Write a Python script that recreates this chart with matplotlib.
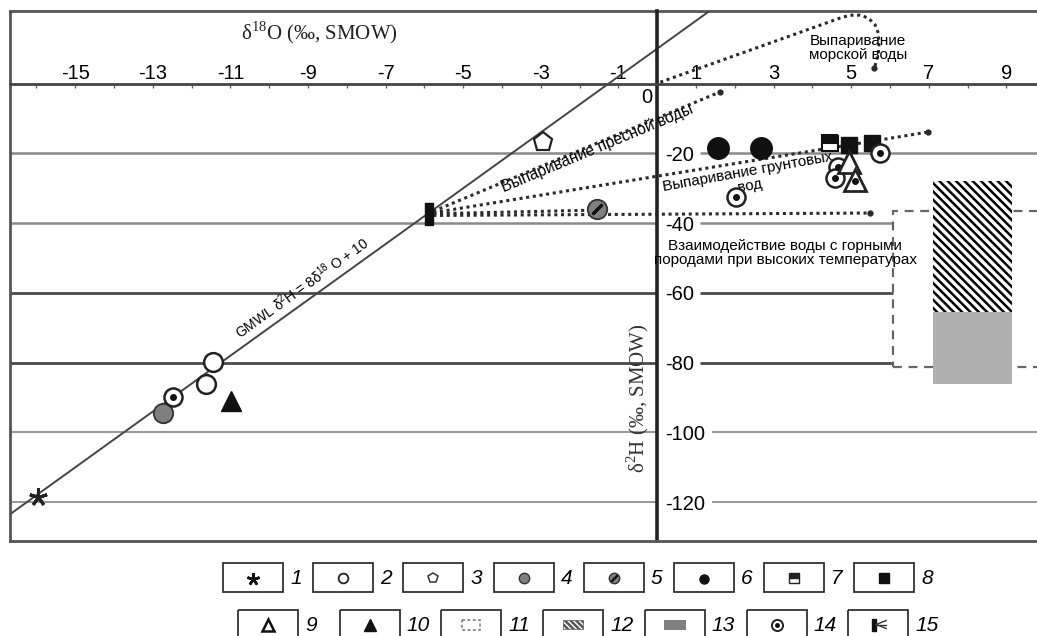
import numpy as np
import matplotlib
matplotlib.use('Agg')
import matplotlib.pyplot as plt
from matplotlib.patches import Rectangle

plt.rcParams['font.family'] = ['Liberation Sans', 'DejaVu Sans']
plt.rcParams['axes.unicode_minus'] = False
plt.rcParams['hatch.linewidth'] = 1.8
plt.rcParams['hatch.color'] = 'black'

# ---- values (d18O, d2H) ----
gmwl_x = [-16.7, 1.4]                      # GMWL: d2H = 8*d18O + 10

star_x, star_y = [-15.95], [-118.6]                                  # 1
open_circ_x, open_circ_y = [-11.44, -11.62], [-79.7, -86.0]          # 2
pent_x, pent_y = [-2.94], [-16.8]                                    # 3
gray_circ_x, gray_circ_y = [-12.73], [-94.3]                         # 4
slash_x, slash_y = [-1.55], [-36.0]                                  # 5
black_circ_x, black_circ_y = [1.57, 2.68], [-18.5, -18.5]            # 6
half_sq_x, half_sq_y = [4.46], [-17.0]                               # 7
black_sq_x, black_sq_y = [4.95, 5.54], [-17.6, -17.0]                # 8
open_tri_x, open_tri_y = [4.95, 5.10], [-22.5, -27.7]                # 9
tri_dot_x, tri_dot_y = [5.10], [-27.9]
black_tri_x, black_tri_y = [-10.98], [-91.1]                         # 10
dot_circ_x = [-12.47, 2.04, 4.66, 4.59, 5.75]                        # 14
dot_circ_y = [-89.7, -32.6, -23.9, -27.1, -19.9]
source_x, source_y = [-5.89], [-37.4]                                # 15

box11 = [6.08, 10.5, -81.2, -36.5]     # x0, x1, y0, y1
box12 = [7.11, 9.15, -65.5, -27.9]
box13 = [7.11, 9.15, -86.1, -65.5]

# evaporation trends (dotted)
fresh_x, fresh_y = [-5.77, 1.62], [-36.6, -2.4]
ground_x, ground_y = [-5.77, 6.98], [-37.0, -13.9]
rock_x, rock_y = [-5.77, 5.49], [-37.8, -37.1]
rock2_x, rock2_y = [-5.77, -1.7], [-37.3, -36.3]
sea_x = [0.08, 4.72, 4.97, 5.23, 5.44, 5.62, 5.70, 5.72, 5.70, 5.64, 5.59]
sea_y = [0.4, 18.8, 19.6, 19.6, 18.8, 16.8, 14.5, 11.6, 8.7, 5.9, 4.4]

grid_levels = [-20, -40, -60, -80, -100, -120]
grid_right_start = [1.1, 1.1, 1.1, 1.1, 1.42, 1.42]
grid_right_end = [9.8, 6.08, 6.08, 6.08, 9.8, 9.8]
grid_colors = ['#8a8a8a', '#8a8a8a', '#4a4a4a', '#4a4a4a', '#9a9a9a', '#9a9a9a']
grid_widths = [1.8, 1.8, 2.0, 2.0, 1.5, 1.5]

xmin, xmax = -16.68, 9.79
ymin, ymax = -131.1, 20.8

fig = plt.figure(figsize=(10.37, 6.36), dpi=100)
ax = fig.add_axes([10/1037, 95/636, 1027/1037, 530/636])
ax.set_xlim(xmin, xmax)
ax.set_ylim(ymin, ymax)

# frame + axes through the origin
for s in ['left', 'bottom']:
    ax.spines[s].set_color('#555555')
    ax.spines[s].set_linewidth(2)
ax.plot([0, 1], [1, 1], transform=ax.transAxes, color='#555555', lw=2, clip_on=False)
ax.spines['right'].set_position(('data', 0))
ax.spines['right'].set_color('#222222')
ax.spines['right'].set_linewidth(2.6)
ax.spines['top'].set_position(('data', 0))
ax.spines['top'].set_color('#444444')
ax.spines['top'].set_linewidth(2)
ax.xaxis.tick_top()
ax.yaxis.tick_right()

ax.set_xticks(np.arange(-15, 10, 2))
ax.set_xticks(np.arange(-16, 10, 1), minor=True)
ax.tick_params(axis='x', which='both', direction='in', length=3, width=1,
               color='#666666', labelsize=14.5, pad=0.5)
ax.set_yticks(grid_levels)
ax.tick_params(axis='y', length=0, labelsize=14.5, pad=6)
ax.text(-0.12, -3.9, '0', ha='right', va='center', fontsize=14.5)

# horizontal grid, broken by the y labels
for lev, x0, x1, c, w in zip(grid_levels, grid_right_start, grid_right_end,
                             grid_colors, grid_widths):
    ax.hlines(lev, xmin, 0, color=c, lw=w, zorder=1)
    ax.hlines(lev, x0, x1, color=c, lw=w, zorder=1)

# GMWL
gx = np.array(gmwl_x)
ax.plot(gx, 8 * gx + 10, color='#444444', lw=1.4, zorder=2)
ax.text(-9.15, -58.6, 'GMWL δ$^{\\mathregular{2}}$H = 8δ$^{\\mathregular{18}}$ O + 10',
        rotation=35.7, ha='center', va='center', fontsize=10, rotation_mode='anchor')

# areas 11-13
ax.add_patch(Rectangle((box11[0], box11[2]), box11[1] - box11[0], box11[3] - box11[2],
                       fill=False, ec='#666666', lw=1.6, ls=(0, (4, 3)), zorder=1))
ax.add_patch(Rectangle((box12[0], box12[2]), box12[1] - box12[0], box12[3] - box12[2],
                       fc='white', ec='black', lw=0, hatch='\\\\\\\\', zorder=3))
ax.add_patch(Rectangle((box13[0], box13[2]), box13[1] - box13[0], box13[3] - box13[2],
                       fc='#b0b0b0', ec='none', zorder=3))

# dotted trend lines
dot_style = dict(color='#2a2a2a', lw=2.2, ls=(0, (1, 1.2)), zorder=2)
for lx, ly in [(fresh_x, fresh_y), (ground_x, ground_y), (rock_x, rock_y),
               (rock2_x, rock2_y), (sea_x, sea_y)]:
    ax.plot(lx, ly, **dot_style)
    ax.plot(lx[-1], ly[-1], 'o', color='#2a2a2a', ms=3.5, zorder=2)

ax.text(-1.55, -18.6, 'Выпаривание пресной воды', rotation=22.7, ha='center',
        va='center', fontsize=11.3, rotation_mode='anchor')
ax.text(2.37, -27.3, 'Выпаривание грунтовых\nвод', rotation=10.2, ha='center',
        va='center', fontsize=11, rotation_mode='anchor', linespacing=1.0)
ax.text(5.18, 10.2, 'Выпаривание\nморской воды', ha='center', va='center',
        fontsize=11, linespacing=1.05)
ax.text(3.30, -48.6, 'Взаимодействие воды с горными\nпородами при высоких температурах',
        ha='center', va='center', fontsize=11, linespacing=1.05)

# axis titles
ax.text(-8.7, 14.5, 'δ$^{\\mathregular{18}}$O (‰, SMOW)', ha='center', va='center',
        fontsize=15, family='Liberation Serif', color='#222222')
ax.text(-0.49, -90.2, 'δ$^{\\mathregular{2}}$H (‰, SMOW)', ha='center', va='center',
        rotation=90, fontsize=15, family='Liberation Serif', color='#333333')

# samples
z = 6
ax.plot(star_x, star_y, ls='none', marker=(5, 2, 0), ms=13, mew=2.2, color='#222222', zorder=z)
ax.plot(open_circ_x, open_circ_y, 'o', ms=13.5, mfc='white', mec='#222222', mew=1.8, zorder=z)
ax.plot(pent_x, pent_y, 'p', ms=14, mfc='white', mec='#222222', mew=1.6, zorder=z)
ax.plot(gray_circ_x, gray_circ_y, 'o', ms=14, mfc='#7f7f7f', mec='#333333', mew=1.3, zorder=z)
ax.plot(slash_x, slash_y, 'o', ms=14, mfc='#7f7f7f', mec='#333333', mew=1.3, zorder=z)
ax.plot(slash_x, slash_y, ls='none', marker=(2, 2, -45), ms=10, mew=2, color='#111111', zorder=z)
ax.plot(black_circ_x, black_circ_y, 'o', ms=15.5, color='#111111', zorder=z)
ax.plot(half_sq_x, half_sq_y, 's', ms=12, mfc='#111111', mfcalt='white', fillstyle='top',
        mec='#111111', mew=1.5, zorder=z)
ax.plot(black_sq_x, black_sq_y, 's', ms=12, color='#111111', zorder=z)
ax.plot(dot_circ_x, dot_circ_y, 'o', ms=13, mfc='white', mec='#222222', mew=1.8, zorder=z)
ax.plot(dot_circ_x, dot_circ_y, 'o', ms=4, color='#111111', zorder=z)
ax.plot(open_tri_x, open_tri_y, '^', ms=16, mfc='white', mec='#222222', mew=2, zorder=z + 1)
ax.plot(tri_dot_x, tri_dot_y, 'o', ms=4, color='#111111', zorder=z + 1)
ax.plot(black_tri_x, black_tri_y, '^', ms=15, color='#111111', zorder=z)
bar = [(-0.18, -0.5), (0.18, -0.5), (0.18, 0.5), (-0.18, 0.5), (-0.18, -0.5)]
ax.plot(source_x, source_y, ls='none', marker=bar, ms=16, color='#111111', zorder=z)

# ---- legend (drawn in pixel coordinates) ----
lax = fig.add_axes([0, 0, 1, 95/636])
lax.set_xlim(0, 1037)
lax.set_ylim(636, 541)
lax.axis('off')

row_y = [577.5, 624.5]
row_left = [223 + 90.2 * np.arange(8), 238 + 101.7 * np.arange(7)]
numbers = [list(range(1, 9)), list(range(9, 16))]


def icon(n, cx, cy):
    k = dict(ls='none', zorder=3)
    if n == 1:
        lax.plot(cx, cy + 1, marker=(5, 2, 0), ms=9, mew=1.8, color='#111111', **k)
    elif n == 2:
        lax.plot(cx, cy, 'o', ms=7, mfc='white', mec='#222222', mew=1.3, **k)
    elif n == 3:
        lax.plot(cx, cy, 'p', ms=7.5, mfc='white', mec='#333333', mew=1.1, **k)
    elif n == 4:
        lax.plot(cx, cy, 'o', ms=7.5, mfc='#7f7f7f', mec='#333333', mew=1, **k)
    elif n == 5:
        lax.plot(cx, cy, 'o', ms=7.5, mfc='#7f7f7f', mec='#333333', mew=1, **k)
        lax.plot(cx, cy, marker=(2, 2, -45), ms=6, mew=1.5, color='#111111', **k)
    elif n == 6:
        lax.plot(cx, cy + 1, 'o', ms=6.5, color='#111111', **k)
    elif n == 7:
        lax.plot(cx, cy, 's', ms=6.5, mfc='#222222', mfcalt='white', fillstyle='top',
                 mec='#222222', mew=1, **k)
    elif n == 8:
        lax.plot(cx, cy, 's', ms=7, color='#111111', **k)
    elif n == 9:
        lax.plot(cx, cy, '^', ms=8, mfc='white', mec='#111111', mew=1.8, **k)
    elif n == 10:
        lax.plot(cx, cy, '^', ms=9, color='#111111', **k)
    elif n == 11:
        lax.add_patch(Rectangle((cx - 9, cy - 5), 18, 10, fill=False, ec='#777777',
                                lw=1.1, ls=(0, (2, 1.5))))
    elif n == 12:
        lax.add_patch(Rectangle((cx - 10, cy - 4.5), 20, 9, fc='white', ec='#555555',
                                lw=0.5, hatch='\\\\\\\\\\\\'))
    elif n == 13:
        lax.add_patch(Rectangle((cx - 11, cy - 5), 22, 10, fc='#7f7f7f', ec='none'))
    elif n == 14:
        lax.plot(cx, cy, 'o', ms=8, mfc='white', mec='#222222', mew=1.4, **k)
        lax.plot(cx, cy, 'o', ms=2.5, color='#111111', **k)
    elif n == 15:
        lax.plot(cx - 4, cy, marker=bar, ms=9, color='#111111', **k)
        for dy in (-4, 0, 4):
            lax.plot([cx - 2, cx + 8], [cy, cy + dy], color='#333333', lw=1, zorder=3)


for ry, lefts, nums in zip(row_y, row_left, numbers):
    for x0, n in zip(lefts, nums):
        lax.add_patch(Rectangle((x0, ry - 14.5), 60, 29, fill=False, ec='#333333', lw=1.3))
        icon(n, x0 + 30, ry)
        lax.text(x0 + 67, ry + 1, str(n), ha='left', va='center', fontsize=15, style='italic')

fig.savefig('out.png', dpi=100)
